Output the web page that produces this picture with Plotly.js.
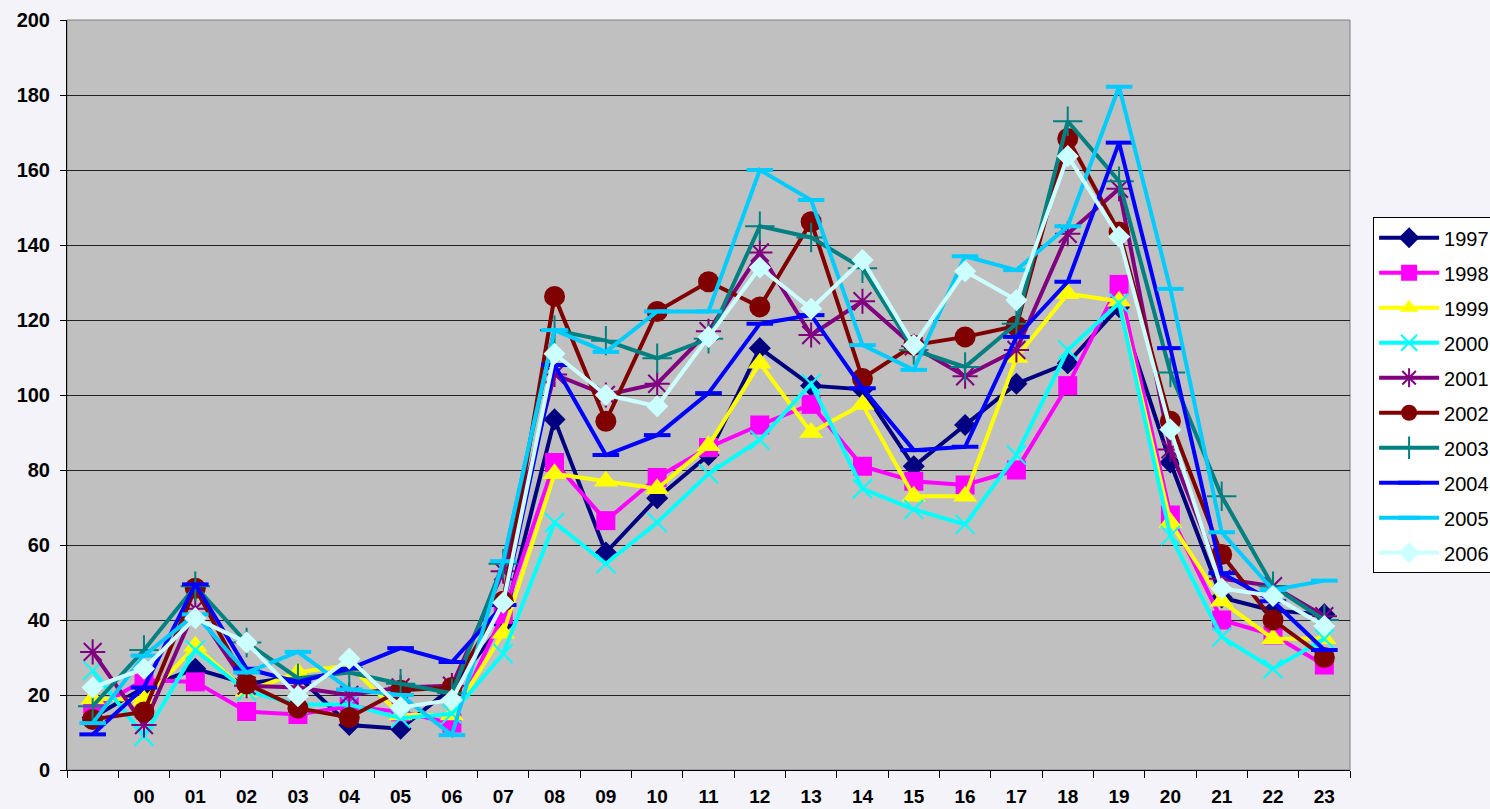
<!DOCTYPE html>
<html>
<head>
<meta charset="utf-8">
<script src="https://cdn.plot.ly/plotly-3.0.1.min.js"></script>
<style>
  html, body { margin: 0; padding: 0; background: #F3F3F9; }
  #chart { width: 1490px; height: 809px; }
</style>
</head>
<body>
<div id="chart"></div>
<script>
const hours = [" ", "00", "01", "02", "03", "04", "05", "06", "07", "08", "09", "10", "11",
  "12", "13", "14", "15", "16", "17", "18", "19", "20", "21", "22", "23"];

const y1997 = [14, 22, 27, 23, 25, 12, 11, 22, 39, 93.5, 58, 72.5, 84, 112.5, 102.5, 101.5, 81, 92, 103, 108.5, 123.5, 82, 46, 42.5, 41.5];
const y1998 = [16, 24, 23.5, 15.6, 14.8, 17, 15.5, 12.5, 41.5, 82, 66.5, 78, 86, 92, 97.5, 81, 77, 76, 80, 102.5, 129.5, 68, 40, 36, 28];
const y1999 = [19, 18.7, 33, 21, 26, 28, 14.7, 14.7, 36.5, 79, 77, 75, 86.5, 108.5, 90, 97.5, 73, 73, 110, 127, 125, 66, 45, 35, 35];
const y2000 = [26.5, 9, 32, 21, 17.5, 17.5, 13.8, 15, 31, 66, 55, 66, 79, 88, 103, 75, 69.5, 65.5, 84, 112, 124.5, 62.5, 35.5, 27, 35];
const y2001 = [31.5, 12, 43, 22.5, 22, 20, 22, 22.5, 53, 105.5, 100, 103, 117, 138, 116, 125, 113, 105, 112, 143, 155, 85.5, 51, 49, 41];
const y2002 = [13.5, 15.5, 48.5, 23, 16.5, 14, 21.3, 22, 45, 126.3, 93, 122.3, 130.2, 123.5, 146.2, 104.4, 113.3, 115.5, 118.4, 168.4, 143.5, 93, 57.5, 40, 30];
const y2003 = [17, 32, 49, 34, 24.5, 26, 23, 20.5, 55, 117.3, 114.5, 109.8, 115, 145, 142, 133.8, 112, 107.5, 119, 173, 157, 106, 73, 49, 40];
const y2004 = [9.5, 22, 49.5, 27, 23.5, 27, 32.5, 28.8, 44, 108, 84, 89.3, 100.5, 119, 121.3, 101.8, 85.3, 86.2, 115.5, 130.2, 167.3, 112.5, 52.5, 45, 32];
const y2005 = [12.5, 30.5, 41.5, 26, 31.5, 21.5, 20, 9.3, 55.7, 117.3, 111.5, 122.3, 122.3, 160, 152, 113.3, 106.7, 137, 133.3, 145, 182.2, 128.3, 63.4, 48, 50.5];
const y2006 = [22, 27, 40.5, 34, 19.7, 29.7, 16.7, 18.7, 44.6, 111, 100, 97, 115.5, 134, 123, 136, 113.3, 133, 125.3, 163.7, 142.2, 90.8, 48.4, 46.4, 38.4];

const yTickVals = [0, 20, 40, 60, 80, 100, 120, 140, 160, 180, 200];

const seriesNames = ["1997", "1998", "1999", "2000", "2001", "2002", "2003", "2004", "2005", "2006"];
const seriesValues = [y1997, y1998, y1999, y2000, y2001, y2002, y2003, y2004, y2005, y2006];
const seriesColors = ["#000080", "#FF00FF", "#FFFF00", "#00FFFF", "#800080", "#800000", "#008080", "#0000FF", "#00CCFF", "#CCFFFF"];
const markerStyles = [
  {symbol: "diamond", size: 17, line: {width: 0}},
  {symbol: "square", size: 19, line: {width: 0}},
  {symbol: "triangle-up", size: 21, line: {width: 0}},
  {symbol: "x-thin", size: 19, line: {width: 2}},
  {symbol: "asterisk", size: 21, line: {width: 2}},
  {symbol: "circle", size: 21, line: {width: 0}},
  {symbol: "cross-thin", size: 21, line: {width: 2}},
  {symbol: "line-ew", size: 19, line: {width: 4}},
  {symbol: "line-ew", size: 19, line: {width: 4}},
  {symbol: "diamond", size: 17, line: {width: 0}}
];

const traces = seriesNames.map((name, i) => ({
  type: "scatter",
  mode: "lines+markers",
  name: name,
  legendgroup: name,
  x: hours,
  y: seriesValues[i],
  line: {color: seriesColors[i], width: 4},
  marker: {
    symbol: markerStyles[i].symbol,
    size: markerStyles[i].size,
    color: seriesColors[i],
    line: {color: seriesColors[i], width: markerStyles[i].line.width}
  },
  cliponaxis: true
}));

const layout = {
  width: 1490,
  height: 809,
  paper_bgcolor: "#F3F3F9",
  plot_bgcolor: "#C0C0C0",
  margin: {l: 67, r: 140, t: 20, b: 39, autoexpand: false},
  font: {family: "Liberation Sans, Arial, sans-serif", color: "#000"},
  showlegend: true,
  legend: {
    x: 1.018, xanchor: "left",
    y: 0.737, yanchor: "top",
    bgcolor: "#FFFFFF",
    bordercolor: "#000000",
    borderwidth: 1,
    font: {size: 20, color: "#000", family: "Liberation Sans, Arial, sans-serif"},
    tracegroupgap: 6,
    traceorder: "grouped",
    itemwidth: 60,
    itemclick: false
  },
  xaxis: {
    type: "category",
    categoryorder: "array",
    categoryarray: hours,
    range: [-0.5, 24.5],
    tickson: "boundaries",
    ticks: "outside",
    ticklen: 7,
    tickcolor: "#000",
    tickwidth: 1,
    showgrid: false,
    showline: true,
    linecolor: "#000",
    linewidth: 1,
    zeroline: false,
    ticklabelstandoff: 9,
    tickfont: {size: 19, family: "Liberation Sans, Arial, sans-serif", weight: "bold", color: "#000"},
    fixedrange: true
  },
  yaxis: {
    range: [0, 200],
    tickvals: yTickVals,
    ticktext: yTickVals.map(String),
    ticks: "outside",
    ticklen: 6,
    tickcolor: "#000",
    showgrid: true,
    gridcolor: "#222",
    gridwidth: 1,
    showline: true,
    linecolor: "#000",
    linewidth: 1,
    zeroline: false,
    ticklabelstandoff: 6,
    tickfont: {size: 20, family: "Liberation Sans, Arial, sans-serif", weight: "bold", color: "#000"},
    fixedrange: true
  },
  shapes: [{
    type: "rect", xref: "paper", yref: "paper", x0: 0, x1: 1, y0: 0, y1: 1,
    line: {color: "#808080", width: 1}, layer: "below"
  }]
};

Plotly.newPlot("chart", traces, layout, {displayModeBar: false, staticPlot: true});
</script>
</body>
</html>
